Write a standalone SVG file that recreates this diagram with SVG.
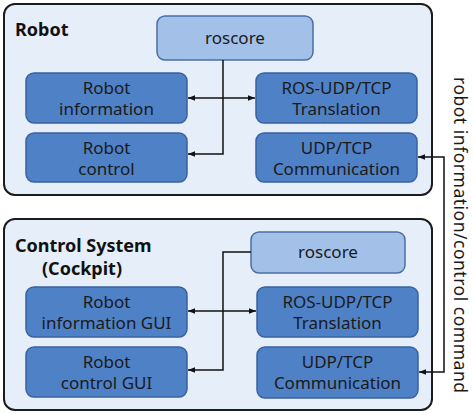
<svg xmlns="http://www.w3.org/2000/svg" width="474" height="413" viewBox="0 0 474 413">
<style>
.outer{fill:#e5eef9;stroke:#1c1c1c;stroke-width:2}
.node{fill:#4f81c6;stroke:#3a62a0;stroke-width:1.5}
.core{fill:#a2c0e8;stroke:#4a6fa5;stroke-width:1.5}
.t{font-family:"Noto Sans","Open Sans",sans-serif;font-size:17px;fill:#1a1a1a;text-anchor:middle}
.title{font-family:"Noto Sans","Open Sans",sans-serif;font-size:18px;font-weight:bold;fill:#111}
.ln{fill:none;stroke:#111;stroke-width:1.5}
</style>
<defs>
<marker id="ah" viewBox="0 0 10 10" refX="10" refY="5" markerWidth="7" markerHeight="7" orient="auto-start-reverse" markerUnits="userSpaceOnUse">
<path d="M0,1 L10,5 L0,9 z" fill="#111"/>
</marker>
</defs>
<g id="robot-system">
<rect class="outer" x="4" y="4" width="428" height="191" rx="11"/>
<text class="title" x="15" y="36">Robot</text>
</g>
<g id="control-system">
<rect class="outer" x="4" y="219" width="428" height="191" rx="11"/>
<text class="title" x="15" y="252">Control System</text>
<text class="title" x="42" y="275">(Cockpit)</text>
</g>
<g id="r-roscore">
<rect class="core" x="157" y="16" width="156" height="44" rx="8"/>
<text class="t" x="235" y="44">roscore</text>
</g>
<g id="r-info">
<rect class="node" x="26" y="73" width="161" height="50" rx="8"/>
<text class="t" x="106.5" y="94">Robot</text>
<text class="t" x="106.5" y="115">information</text>
</g>
<g id="r-control">
<rect class="node" x="26" y="133" width="161" height="49" rx="8"/>
<text class="t" x="106.5" y="154">Robot</text>
<text class="t" x="106.5" y="175">control</text>
</g>
<g id="r-trans">
<rect class="node" x="256" y="73" width="161" height="50" rx="8"/>
<text class="t" x="336.5" y="94">ROS-UDP/TCP</text>
<text class="t" x="336.5" y="115">Translation</text>
</g>
<g id="r-comm">
<rect class="node" x="256" y="133" width="161" height="49" rx="8"/>
<text class="t" x="336.5" y="154">UDP/TCP</text>
<text class="t" x="336.5" y="175">Communication</text>
</g>
<g id="c-roscore">
<rect class="core" x="251" y="232" width="154" height="41" rx="8"/>
<text class="t" x="328" y="258">roscore</text>
</g>
<g id="c-info">
<rect class="node" x="26" y="287" width="161" height="50" rx="8"/>
<text class="t" x="106.5" y="308">Robot</text>
<text class="t" x="106.5" y="329">information GUI</text>
</g>
<g id="c-control">
<rect class="node" x="26" y="347" width="161" height="50" rx="8"/>
<text class="t" x="106.5" y="368">Robot</text>
<text class="t" x="106.5" y="389">control GUI</text>
</g>
<g id="c-trans">
<rect class="node" x="257" y="287" width="161" height="50" rx="8"/>
<text class="t" x="337.5" y="308">ROS-UDP/TCP</text>
<text class="t" x="337.5" y="329">Translation</text>
</g>
<g id="c-comm">
<rect class="node" x="257" y="347" width="161" height="51" rx="8"/>
<text class="t" x="337.5" y="368">UDP/TCP</text>
<text class="t" x="337.5" y="389">Communication</text>
</g>
<g id="connectors">
<path class="ln" d="M188,98 L255,98" marker-start="url(#ah)" marker-end="url(#ah)"/>
<path class="ln" d="M223,60 L223,154 L188,154" marker-end="url(#ah)"/>
<path class="ln" d="M188,311 L256,311" marker-start="url(#ah)" marker-end="url(#ah)"/>
<path class="ln" d="M251,252 L223,252 L223,370 L188,370" marker-end="url(#ah)"/>
<path class="ln" d="M418,157 L444,157 L444,372 L419,372" marker-start="url(#ah)" marker-end="url(#ah)"/>
</g>
<text transform="translate(454,0) rotate(90)" x="77" y="0" textLength="316" lengthAdjust="spacing" style="font-family:'Noto Sans','Open Sans',sans-serif;font-size:17.5px;fill:#1a1a1a">robot information/control command</text>
</svg>
